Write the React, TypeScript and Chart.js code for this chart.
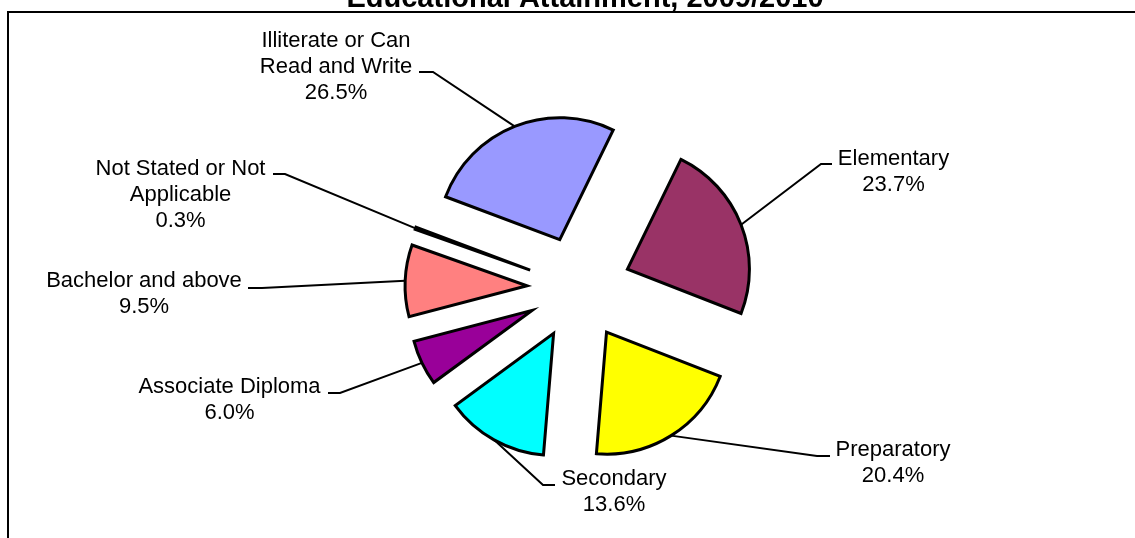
import React, { useEffect, useRef } from "react";
import { Chart, registerables } from "chart.js";

Chart.register(...registerables);

// ---- data ----
const chartTitle = "Educational Attainment, 2009/2010";
const categories = [
  "Illiterate or Can\nRead and Write",
  "Elementary",
  "Preparatory",
  "Secondary",
  "Associate Diploma",
  "Bachelor and above",
  "Not Stated or Not\nApplicable",
];
const shares = [26.5, 23.7, 20.4, 13.6, 6.0, 9.5, 0.3];
const sliceColors = ["#9999FF", "#993366", "#FFFF00", "#00FFFF", "#990099", "#FF8080", "#FFFFFF"];

// ---- layout / style ----
const W = 1135;
const H = 538;
const EXPLODE = 52;
const LINE_H = 26;
const FONT = '"Liberation Sans", Arial, Helvetica, sans-serif';

// label text centre x, first baseline y, leader elbow (ex, ey), horizontal end hx
const labelLayout = [
  { cx: 336, y: 47, ex: 433, ey: 72, hx: 419 },
  { cx: 893.5, y: 165, ex: 821, ey: 164, hx: 832 },
  { cx: 893, y: 456, ex: 817, ey: 456, hx: 830 },
  { cx: 614, y: 485, ex: 543, ey: 485, hx: 555 },
  { cx: 229.5, y: 393, ex: 340, ey: 393, hx: 328 },
  { cx: 144, y: 287, ex: 262, ey: 288, hx: 248 },
  { cx: 180.5, y: 175, ex: 285, ey: 174, hx: 273 },
];

const framePlugin = {
  id: "frame",
  beforeDraw(chart: any) {
    const ctx = chart.ctx as CanvasRenderingContext2D;
    ctx.save();
    ctx.fillStyle = "#ffffff";
    ctx.fillRect(0, 0, W, H);
    ctx.strokeStyle = "#000000";
    ctx.lineWidth = 2;
    ctx.beginPath();
    ctx.moveTo(8, H);
    ctx.lineTo(8, 12);
    ctx.lineTo(W, 12);
    ctx.stroke();
    ctx.fillStyle = "#000000";
    ctx.font = `bold 29px ${FONT}`;
    ctx.textAlign = "center";
    ctx.textBaseline = "alphabetic";
    ctx.fillText(chartTitle, 585, 7);
    ctx.restore();
  },
};

const explodePlugin = {
  id: "explode",
  afterUpdate(chart: any) {
    const meta = chart.getDatasetMeta(0);
    meta.data.forEach((el: any) => {
      const mid = (el.startAngle + el.endAngle) / 2;
      el.x += Math.cos(mid) * EXPLODE;
      el.y += Math.sin(mid) * EXPLODE;
    });
  },
};

const labelPlugin = {
  id: "sliceLabels",
  afterDraw(chart: any) {
    const ctx = chart.ctx as CanvasRenderingContext2D;
    const meta = chart.getDatasetMeta(0);
    ctx.save();
    meta.data.forEach((el: any, i: number) => {
      const L = labelLayout[i];
      const mid = (el.startAngle + el.endAngle) / 2;
      const ax = el.x + Math.cos(mid) * el.outerRadius;
      const ay = el.y + Math.sin(mid) * el.outerRadius;
      ctx.strokeStyle = "#000000";
      ctx.lineWidth = 2;
      ctx.lineJoin = "miter";
      ctx.beginPath();
      ctx.moveTo(ax, ay);
      ctx.lineTo(L.ex, L.ey);
      ctx.lineTo(L.hx, L.ey);
      ctx.stroke();

      ctx.fillStyle = "#000000";
      ctx.font = `22px ${FONT}`;
      ctx.textAlign = "center";
      ctx.textBaseline = "alphabetic";
      const lines = [...categories[i].split("\n"), shares[i].toFixed(1) + "%"];
      lines.forEach((t, k) => ctx.fillText(t, L.cx, L.y + k * LINE_H));
    });
    ctx.restore();
  },
};

export default function App() {
  const canvasRef = useRef<HTMLCanvasElement | null>(null);

  useEffect(() => {
    const canvas = canvasRef.current;
    if (!canvas) return;
    const chart = new Chart(canvas, {
      type: "pie",
      data: {
        labels: categories,
        datasets: [
          {
            data: shares,
            backgroundColor: sliceColors,
            borderColor: "#000000",
            borderWidth: 3,
            borderJoinStyle: "miter",
            radius: 122,
          } as any,
        ],
      },
      options: {
        responsive: false,
        devicePixelRatio: 1,
        animation: false,
        rotation: -69.4,
        layout: { padding: { left: 23, top: 38, right: 0, bottom: 0 } },
        plugins: {
          legend: { display: false },
          tooltip: { enabled: false },
          title: { display: false },
        },
        events: [],
      } as any,
      plugins: [framePlugin, explodePlugin, labelPlugin],
    });
    return () => chart.destroy();
  }, []);

  return (
    <div style={{ position: "absolute", left: 0, top: 0, width: W, height: H, background: "#fff" }}>
      <canvas ref={canvasRef} width={W} height={H} style={{ width: W, height: H, display: "block" }} />
    </div>
  );
}
